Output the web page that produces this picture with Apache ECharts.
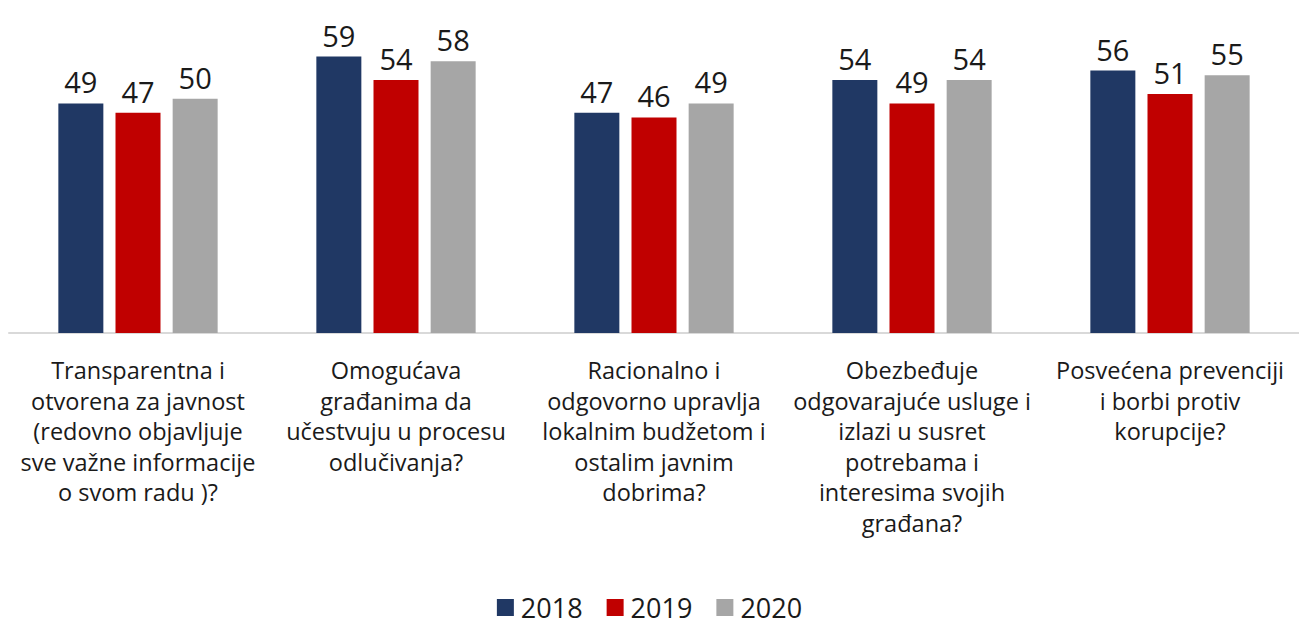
<!DOCTYPE html>
<html>
<head>
<meta charset="utf-8">
<script src="https://cdn.jsdelivr.net/npm/echarts@6/dist/echarts.min.js"></script>
<style>
  html, body { margin: 0; padding: 0; background: #fff; }
  #chart { width: 1299px; height: 627px; }
</style>
</head>
<body>
<div id="chart"></div>
<script>
var categories = [
  'Transparentna i\notvorena za javnost\n(redovno objavljuje\nsve važne informacije\no svom radu )?',
  'Omogućava\ngrađanima da\nučestvuju u procesu\nodlučivanja?',
  'Racionalno i\nodgovorno upravlja\nlokalnim budžetom i\nostalim javnim\ndobrima?',
  'Obezbeđuje\nodgovarajuće usluge i\nizlazi u susret\npotrebama i\ninteresima svojih\ngrađana?',
  'Posvećena prevenciji\ni borbi protiv\nkorupcije?'
];
var years = ['2018', '2019', '2020'];
var values2018 = [49, 59, 47, 54, 56];
var values2019 = [47, 54, 46, 49, 51];
var values2020 = [50, 58, 49, 54, 55];

var font = 'Open Sans';
var ink = '#1a1a1a';
var colors = ['#203864', '#C00000', '#A6A6A6'];

var chart = echarts.init(document.getElementById('chart'), null, { renderer: 'svg' });

function makeSeries(name, data) {
  return {
    name: name,
    type: 'bar',
    data: data,
    barWidth: 45,
    barGap: '27%',
    label: {
      show: true,
      position: 'top',
      distance: 7,
      color: ink,
      fontFamily: font,
      fontSize: 29
    }
  };
}

chart.setOption({
  animation: false,
  color: colors,
  textStyle: { fontFamily: font },
  legend: {
    top: 594,
    left: 'center',
    padding: 0,
    itemWidth: 17,
    itemHeight: 17,
    itemGap: 24,
    icon: 'rect',
    textStyle: { color: ink, fontSize: 27, lineHeight: 27, fontFamily: font, padding: [0, 0, 0, 2] },
    data: years
  },
  grid: { left: 9, right: -2, top: 5, bottom: 294, containLabel: false },
  xAxis: {
    type: 'category',
    data: categories,
    axisLine: { lineStyle: { color: '#d9d9d9', width: 2 } },
    axisTick: { show: false },
    axisLabel: {
      interval: 0,
      color: ink,
      fontFamily: font,
      fontSize: 23.5,
      lineHeight: 30.5,
      margin: 22
    }
  },
  yAxis: {
    type: 'value',
    min: 0,
    max: 70,
    show: false,
    splitLine: { show: false }
  },
  series: [
    makeSeries(years[0], values2018),
    makeSeries(years[1], values2019),
    makeSeries(years[2], values2020)
  ]
});
</script>
</body>
</html>
